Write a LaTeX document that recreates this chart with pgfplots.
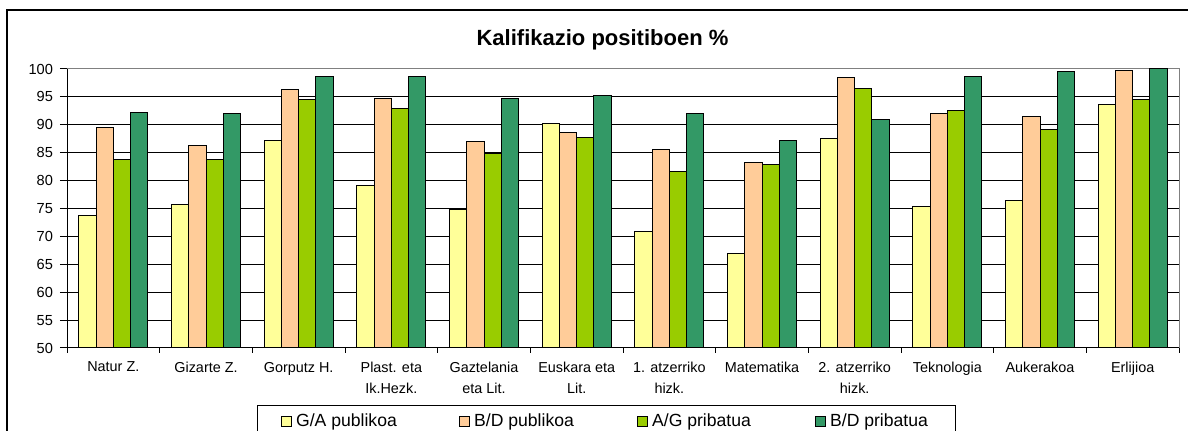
\documentclass[border=0pt]{standalone}
\usepackage{pgfplots}
\pgfplotsset{compat=1.18}
\usepackage{fontspec}
\setmainfont{Liberation Sans}

\definecolor{gapub}{HTML}{FFFF99}
\definecolor{bdpub}{HTML}{FFCC99}
\definecolor{agpri}{HTML}{99CC00}
\definecolor{bdpri}{HTML}{339966}

\pgfplotsset{sq/.style={legend image code/.code={\draw[##1,draw=black,line width=0.5pt] (0pt,-2.4pt) rectangle (5pt,2.4pt);}}}

\begin{document}
\begin{tikzpicture}
\useasboundingbox (0,0) rectangle (594pt,215.5pt);
% outer frame
\draw[line width=0.8pt] (3.5pt,-5pt) -- (3.5pt,210.5pt) -- (600pt,210.5pt);
\node[font=\fontsize{11}{13}\selectfont\bfseries] at (301.25pt,195.5pt) {Kalifikazio positiboen \%};
\begin{axis}[
    at={(33.5pt,41.5pt)}, anchor=south west,
    scale only axis,
    width=556pt, height=139.5pt,
    ybar=0pt,
    bar width=8.6pt,
    xmin=-0.5, xmax=11.5,
    ymin=50, ymax=100,
    ytick={50,55,...,100},
    xtick={0,...,11},
    xticklabels={Natur Z., Gizarte Z., Gorputz H., Plast. eta\\Ik.Hezk., Gaztelania\\eta Lit., Euskara eta\\Lit., 1. atzerriko\\hizk., Matematika, 2. atzerriko\\hizk., Teknologia, Aukerakoa, Erlijioa},
    xtick pos=bottom, ytick pos=left,
    x tick style={draw=none},
    major tick length=3.5pt,
    tick align=outside,
    grid=none, ymajorgrids,
    x grid style={draw=none},
    minor grid style={draw=none},
    y grid style={black, line width=0.5pt},
    axis line style={gray, line width=0.5pt},
    y tick style={black, line width=0.5pt},
    /pgf/number format/assume math mode=true,
    yticklabel style={font=\fontsize{7.3}{8}\selectfont},
    xticklabel style={font=\fontsize{7.2}{10.5}\selectfont, align=center},
    legend columns=4,
    legend cell align=left,
    legend style={at={(0.4852,-0.2043)}, anchor=north, draw=black, line width=0.5pt,
        font=\fontsize{8.8}{10}\selectfont, column sep=0pt, inner xsep=12pt},
    after end axis/.code={
        \draw[black,line width=0.5pt] (rel axis cs:0,1) -- (rel axis cs:0,0) -- (rel axis cs:1,0);
    },
]
\addplot[fill=gapub, draw=black, line width=0.5pt, sq] coordinates {
 (0,73.7) (1,75.7) (2,87.2) (3,79.2) (4,74.8) (5,90.3) (6,70.8) (7,67.0) (8,87.5) (9,75.4) (10,76.4) (11,93.7)};
\addplot[fill=bdpub, draw=black, line width=0.5pt, sq] coordinates {
 (0,89.5) (1,86.2) (2,96.3) (3,94.7) (4,87.0) (5,88.7) (6,85.5) (7,83.3) (8,98.5) (9,92.0) (10,91.4) (11,99.7)};
\addplot[fill=agpri, draw=black, line width=0.5pt, sq] coordinates {
 (0,83.7) (1,83.7) (2,94.6) (3,92.9) (4,84.8) (5,87.8) (6,81.7) (7,82.8) (8,96.5) (9,92.5) (10,89.2) (11,94.6)};
\addplot[fill=bdpri, draw=black, line width=0.5pt, sq] coordinates {
 (0,92.2) (1,92.0) (2,98.7) (3,98.7) (4,94.7) (5,95.2) (6,92.0) (7,87.2) (8,91.0) (9,98.7) (10,99.5) (11,100.0)};
\addlegendentry{\makebox[79.5pt][l]{G/A publikoa}}
\addlegendentry{\makebox[79.5pt][l]{B/D publikoa}}
\addlegendentry{\makebox[79.5pt][l]{A/G pribatua}}
\addlegendentry{B/D pribatua}
\end{axis}
% category separator ticks below the x axis
\foreach \k in {0,...,12} {\draw[black,line width=0.5pt] (33.5pt+46.3333pt*\k,41.5pt) -- ++(0,-2.5pt);}
\end{tikzpicture}
\end{document}
